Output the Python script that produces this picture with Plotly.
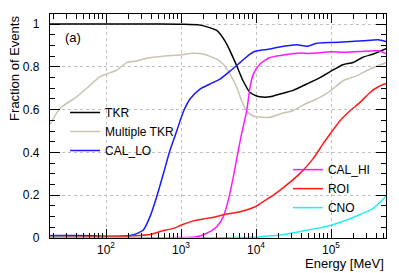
import plotly.graph_objects as go

# ---- data (energy in MeV, fraction of events) ----
tkr_e = [17.9, 100, 500, 1000, 1792, 2992, 3862, 4500, 5530, 6714, 8318, 10000, 11300,
         15370, 20890, 31120, 47430, 71290, 100000, 144500, 196500, 267100, 366500, 541000]
tkr_v = [1.0, 1.0, 1.0, 0.999, 0.995, 0.97, 0.92, 0.875, 0.805, 0.735, 0.68, 0.665, 0.66,
         0.66, 0.673, 0.69, 0.72, 0.75, 0.78, 0.81, 0.82, 0.845, 0.86, 0.885]

mtkr_e = [17.9, 24.4, 40.6, 55.3, 83.2, 113, 139, 189, 256, 349, 575, 970, 1445, 1965,
          2992, 3631, 4500, 5530, 6446, 7520, 9120, 12390, 15370, 22910, 31120, 47430,
          71290, 100000, 144500, 220200, 331100, 541000]
mtkr_v = [0.53, 0.606, 0.66, 0.70, 0.754, 0.772, 0.785, 0.82, 0.827, 0.84, 0.85, 0.855,
          0.863, 0.86, 0.836, 0.813, 0.766, 0.704, 0.64, 0.595, 0.57, 0.564, 0.564, 0.584,
          0.595, 0.63, 0.657, 0.69, 0.735, 0.758, 0.79, 0.82]

callo_e = [17.9, 40, 100, 150, 229, 314, 386, 474, 581, 713, 876, 1074, 1318, 1792, 2436,
           3311, 4500, 6124, 8318, 10200, 15370, 18880, 34900, 47430, 64420, 100000,
           161900, 267100, 423400, 541000]
callo_v = [0.012, 0.012, 0.008, 0.008, 0.014, 0.037, 0.10, 0.193, 0.30, 0.41, 0.50, 0.59,
           0.65, 0.696, 0.72, 0.743, 0.78, 0.82, 0.86, 0.875, 0.883, 0.89, 0.903, 0.896,
           0.91, 0.914, 0.917, 0.922, 0.927, 0.918]

calhi_e = [17.9, 1000, 1618, 2203, 2992, 3664, 4275, 4982, 5804, 6446, 7520, 8318, 9204,
           11300, 15370, 22910, 34900, 52480, 100000, 144500, 243600, 423400, 541000]
calhi_v = [0.002, 0.002, 0.006, 0.022, 0.053, 0.10, 0.178, 0.286, 0.41, 0.49, 0.595, 0.704,
           0.766, 0.813, 0.844, 0.855, 0.864, 0.863, 0.87, 0.868, 0.872, 0.875, 0.862]

roi_e = [17.9, 100, 284, 386, 525, 789, 1074, 1459, 1983, 2697, 4064, 6124, 9705, 12500,
         17020, 25650, 38630, 58080, 78890, 100000, 131800, 179200, 243600, 331100,
         427200, 541000]
roi_v = [0.008, 0.006, 0.012, 0.016, 0.03, 0.045, 0.064, 0.08, 0.089, 0.097, 0.112, 0.123,
         0.146, 0.17, 0.20, 0.248, 0.302, 0.372, 0.442, 0.492, 0.548, 0.595, 0.634, 0.68,
         0.707, 0.722]

cno_e = [17.9, 10000, 11300, 20890, 38630, 64420, 100000, 161900, 243600, 366500, 541000]
cno_v = [0.003, 0.003, 0.006, 0.014, 0.03, 0.045, 0.06, 0.084, 0.11, 0.139, 0.195]

series = [
    ("TKR", tkr_e, tkr_v, "#000000", "legend"),
    ("Multiple TKR", mtkr_e, mtkr_v, "#c8c4b2", "legend"),
    ("CAL_LO", callo_e, callo_v, "#1a1aff", "legend"),
    ("CAL_HI", calhi_e, calhi_v, "#ff19ff", "legend2"),
    ("ROI", roi_e, roi_v, "#ff1a1a", "legend2"),
    ("CNO", cno_e, cno_v, "#22f0f0", "legend2"),
]

x_tickvals = [100, 1000, 10000, 100000]
x_ticktext = ["10<sup>2</sup>", "10<sup>3</sup>", "10<sup>4</sup>", "10<sup>5</sup>"]
x_minor = [m * d for d in [10, 100, 1000, 10000, 100000] for m in range(2, 10)]
y_tickvals = [0, 0.2, 0.4, 0.6, 0.8, 1.0]
y_ticktext = ["0", "0.2", "0.4", "0.6", "0.8", "1"]

FONT = "Liberation Sans, Arial, sans-serif"

fig = go.Figure()
for name, e, v, col, lg in series:
    fig.add_trace(go.Scatter(x=e, y=v, name=name, mode="lines",
                             line=dict(color=col, width=1.5, shape="spline", smoothing=0.6),
                             legend=lg))

axis_common = dict(showline=True, linecolor="black", linewidth=1.2, mirror="allticks",
                   ticks="inside", tickcolor="black", showgrid=True, gridcolor="#c0c0c0",
                   griddash="dot", gridwidth=1, zeroline=False, automargin=False,
                   tickfont=dict(family=FONT, size=12, color="black"))

fig.update_xaxes(type="log", range=[1.253, 5.733], tickvals=x_tickvals, ticktext=x_ticktext,
                 ticklen=9, minor=dict(ticks="inside", ticklen=5, tickcolor="black",
                                       tickvals=x_minor, showgrid=False),
                 **axis_common)
fig.update_yaxes(range=[0, 1.047], tickvals=y_tickvals, ticktext=y_ticktext, ticklen=10,
                 ticklabelstandoff=7,
                 minor=dict(ticks="inside", ticklen=5, dtick=0.05, tickcolor="black",
                            showgrid=False),
                 **axis_common)

fig.update_layout(
    width=399, height=273,
    margin=dict(l=50, r=13, t=14, b=35),
    paper_bgcolor="white", plot_bgcolor="white",
    font=dict(family=FONT, size=13, color="black"),
    legend=dict(x=0.045, y=0.625, xanchor="left", yanchor="top", bgcolor="rgba(0,0,0,0)",
                font=dict(family=FONT, size=12), tracegroupgap=0, itemwidth=30),
    legend2=dict(x=0.708, y=0.37, xanchor="left", yanchor="top", bgcolor="rgba(0,0,0,0)",
                 font=dict(family=FONT, size=12), tracegroupgap=0, itemwidth=30),
    annotations=[
        dict(text="(a)", x=0.04, y=0.893, xref="paper", yref="paper", xanchor="left",
             yanchor="middle", showarrow=False, font=dict(family=FONT, size=13)),
        dict(text="Fraction of Events", x=-0.106, y=1.0, xref="paper", yref="paper",
             xanchor="center", yanchor="top", textangle=-90, showarrow=False,
             font=dict(family=FONT, size=13)),
        dict(text="Energy [MeV]", x=1.0, y=-0.112, xref="paper", yref="paper",
             xanchor="right", yanchor="middle", showarrow=False,
             font=dict(family=FONT, size=13)),
    ],
)

fig.write_html("out.html", config={"displayModeBar": False},
               post_script="document.body.style.margin='0';")
